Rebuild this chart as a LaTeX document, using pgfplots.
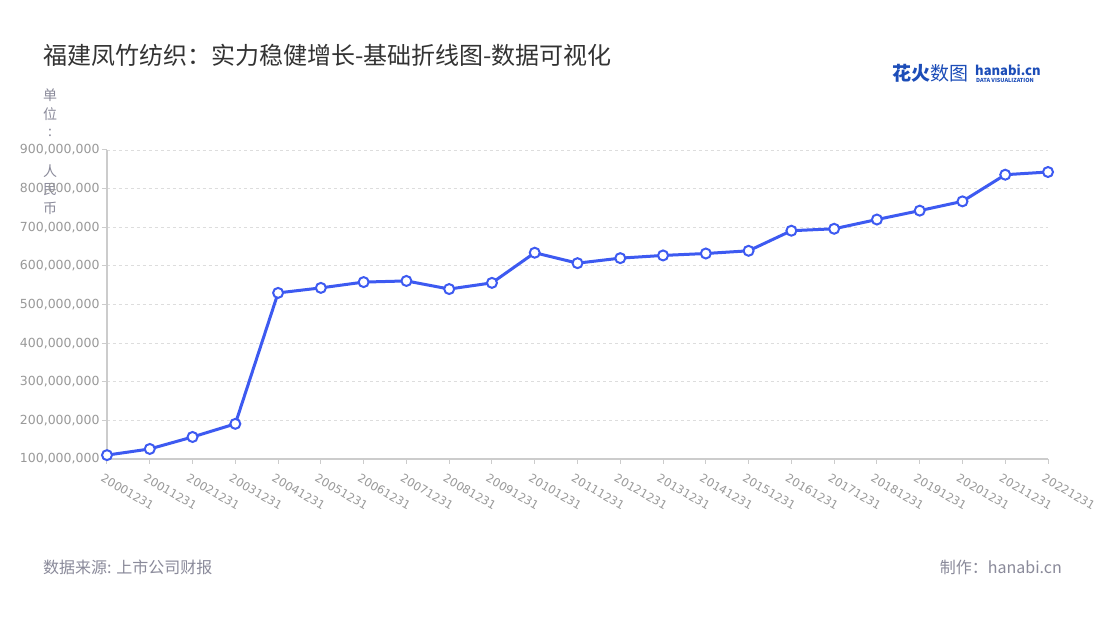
\documentclass[border=0pt]{standalone}
\usepackage{pgfplots}
\pgfplotsset{compat=1.18}
\usepackage{fontspec}
\setmainfont{Noto Sans CJK SC}
\newfontfamily\tickfont{DejaVu Sans}

\definecolor{lineblue}{HTML}{3D5AF1}
\definecolor{ticktext}{HTML}{999999}
\definecolor{axisgray}{HTML}{CCCCCC}
\definecolor{gridgray}{HTML}{DDDDDD}
\definecolor{titlegray}{HTML}{333333}
\definecolor{footgray}{HTML}{8A8A9A}
\definecolor{logoblue}{HTML}{1C4DB8}

\begin{document}
\begin{tikzpicture}[x=1bp,y=1bp]
% canvas 1100 x 620 px, y measured from the bottom
\useasboundingbox (0,0) rectangle (1100,620);
\fill[white] (0,0) rectangle (1100,620);
\coordinate (axpos) at (107,161);

% title and logo
\node[anchor=west, text=titlegray, inner sep=0pt]
  at (43,565) {\fontsize{24bp}{28bp}\selectfont 福建凤竹纺织：实力稳健增长-基础折线图-数据可视化};
\node[anchor=west, text=logoblue, inner sep=0pt]
  at (892,547) {\fontsize{19bp}{22bp}\selectfont\bfseries 花火\mdseries 数图};
\node[anchor=west, text=logoblue, inner sep=0pt]
  at (975,550) {\fontsize{13bp}{15bp}\selectfont\bfseries hanabi.cn};
\node[anchor=west, text=logoblue, inner sep=0pt]
  at (976,540) {\fontsize{5.5bp}{6bp}\selectfont\bfseries DATA VISUALIZATION};

% vertical unit label
\foreach \c/\yy in {单/525, 位/506, :/487, 人/449, 民/430, 币/412}
  \node[text=footgray, inner sep=0pt] at (50,\yy) {\fontsize{14bp}{16bp}\selectfont \c};

% footer
\node[anchor=west, text=footgray, inner sep=0pt]
  at (43,53) {\fontsize{16bp}{19bp}\selectfont 数据来源: 上市公司财报};
\node[anchor=east, text=footgray, inner sep=0pt]
  at (1062,53) {\fontsize{16bp}{19bp}\selectfont 制作：hanabi.cn};

\begin{axis}[
    at={(axpos)}, anchor=south west,
    scale only axis,
    width=941bp, height=309bp,
    xmin=0, xmax=22,
    ymin=100000000, ymax=900000000,
    axis x line=bottom, axis y line=left,
    axis line style={-, axisgray, line width=1.5bp},
    xtick={0,...,22},
    xticklabels={20001231,20011231,20021231,20031231,20041231,20051231,
      20061231,20071231,20081231,20091231,20101231,20111231,20121231,
      20131231,20141231,20151231,20161231,20171231,20181231,20191231,
      20201231,20211231,20221231},
    ytick={100000000,200000000,300000000,400000000,500000000,
      600000000,700000000,800000000,900000000},
    yticklabels={{100,000,000},{200,000,000},{300,000,000},{400,000,000},
      {500,000,000},{600,000,000},{700,000,000},{800,000,000},{900,000,000}},
    scaled y ticks=false,
    tick align=outside,
    major tick length=5bp,
    tick style={axisgray, line width=1bp},
    ymajorgrids=true,
    grid style={gridgray, dashed, line width=0.8bp},
    xticklabel style={rotate=-30, anchor=north west, text=ticktext,
      font=\tickfont\fontsize{11.5bp}{14bp}\selectfont, xshift=-1bp, yshift=-6bp},
    yticklabel style={text=ticktext, font=\tickfont\fontsize{12.5bp}{14bp}\selectfont,
      xshift=1bp},
    clip=false,
]
\addplot[
    color=lineblue,
    line width=3bp,
    mark=*,
    mark size=5bp,
    mark options={fill=white, draw=lineblue, line width=2bp},
    ]
    coordinates {
    (0,110000000)(1,126000000)(2,157000000)(3,191000000)(4,530000000)
    (5,543000000)(6,558000000)(7,561000000)(8,540000000)(9,556000000)
    (10,634000000)(11,607000000)(12,620000000)(13,627000000)(14,632000000)
    (15,639000000)(16,691000000)(17,696000000)(18,720000000)(19,743000000)
    (20,767000000)(21,836000000)(22,843000000)
    };
\end{axis}
\end{tikzpicture}
\end{document}
